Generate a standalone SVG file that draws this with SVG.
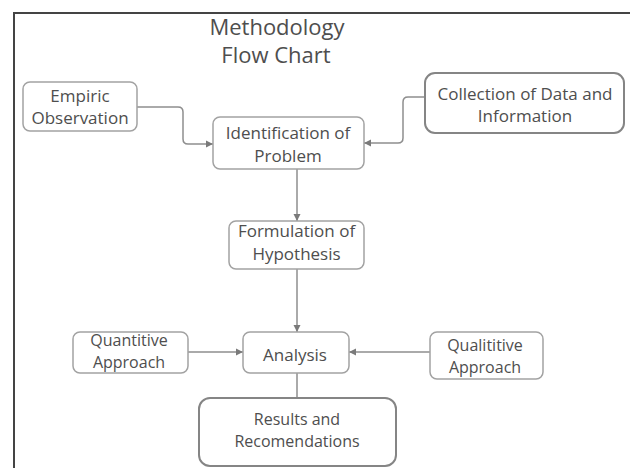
<svg xmlns="http://www.w3.org/2000/svg" width="630" height="468" viewBox="0 0 630 468">
<style>
.box{fill:#fff;stroke:#a2a2a2;stroke-width:1.5}
.bold{fill:#fff;stroke:#858585;stroke-width:2}
.t{font-family:"Open Sans","Noto Sans",sans-serif;font-size:17px;fill:#4e4e4e;text-anchor:middle}
.s{font-size:16px}
.title{font-family:"Open Sans","Noto Sans",sans-serif;font-size:22px;fill:#4e4e4e;text-anchor:middle}
.c{fill:none;stroke:#8e8e8e;stroke-width:1.5}
</style>
<defs>
<marker id="ah" markerUnits="userSpaceOnUse" markerWidth="8" markerHeight="8" refX="7" refY="4" orient="auto">
<path d="M0,0.5 L7,4 L0,7.5 z" fill="#7a7a7a"/>
</marker>
</defs>
<rect x="0" y="0" width="630" height="468" fill="#fff"/>
<rect x="14" y="13" width="640" height="480" fill="none" stroke="#444" stroke-width="2"/>
<g id="title">
<text class="title" x="277" y="35">Methodology</text>
<text class="title" x="276" y="63">Flow Chart</text>
</g>
<g id="connectors">
<path class="c" d="M137,107 H178 Q183,107 183,112 V139 Q183,144 188,144 H213" marker-end="url(#ah)"/>
<path class="c" d="M425,97 H408 Q403,97 403,102 V138 Q403,143 398,143 H364" marker-end="url(#ah)"/>
<path class="c" d="M297,169 V221" marker-end="url(#ah)"/>
<path class="c" d="M297,269 V332" marker-end="url(#ah)"/>
<path class="c" d="M188,352 H243" marker-end="url(#ah)"/>
<path class="c" d="M430,352 H349" marker-end="url(#ah)"/>
<path class="c" d="M297,373 V398"/>
</g>
<g id="empiric">
<rect class="box" x="23" y="82" width="114" height="49" rx="7"/>
<text class="t" x="80" y="102">Empiric</text>
<text class="t" x="80" y="124">Observation</text>
</g>
<g id="collection">
<rect class="bold" x="425" y="73" width="199" height="60" rx="10"/>
<text class="t" x="525" y="100">Collection of Data and</text>
<text class="t" x="525" y="122">Information</text>
</g>
<g id="identification">
<rect class="box" x="213" y="117" width="151" height="52" rx="7"/>
<text class="t" x="288" y="139">Identification of</text>
<text class="t" x="288" y="162">Problem</text>
</g>
<g id="formulation">
<rect class="box" x="229" y="221" width="135" height="48" rx="7"/>
<text class="t" x="296.5" y="237">Formulation of</text>
<text class="t" x="296.5" y="260">Hypothesis</text>
</g>
<g id="quantitive">
<rect class="box" x="73" y="332" width="115" height="41" rx="7"/>
<text class="t s" x="129" y="346">Quantitive</text>
<text class="t s" x="129" y="368">Approach</text>
</g>
<g id="analysis">
<rect class="box" x="243" y="332" width="106" height="41" rx="7"/>
<text class="t" x="295" y="361">Analysis</text>
</g>
<g id="qualititive">
<rect class="box" x="430" y="332" width="113" height="47" rx="7"/>
<text class="t s" x="485" y="351">Qualititive</text>
<text class="t s" x="485" y="373">Approach</text>
</g>
<g id="results">
<rect class="bold" x="199" y="398" width="197" height="68" rx="11"/>
<text class="t s" x="297" y="425">Results and</text>
<text class="t s" x="297" y="447">Recomendations</text>
</g>
</svg>
